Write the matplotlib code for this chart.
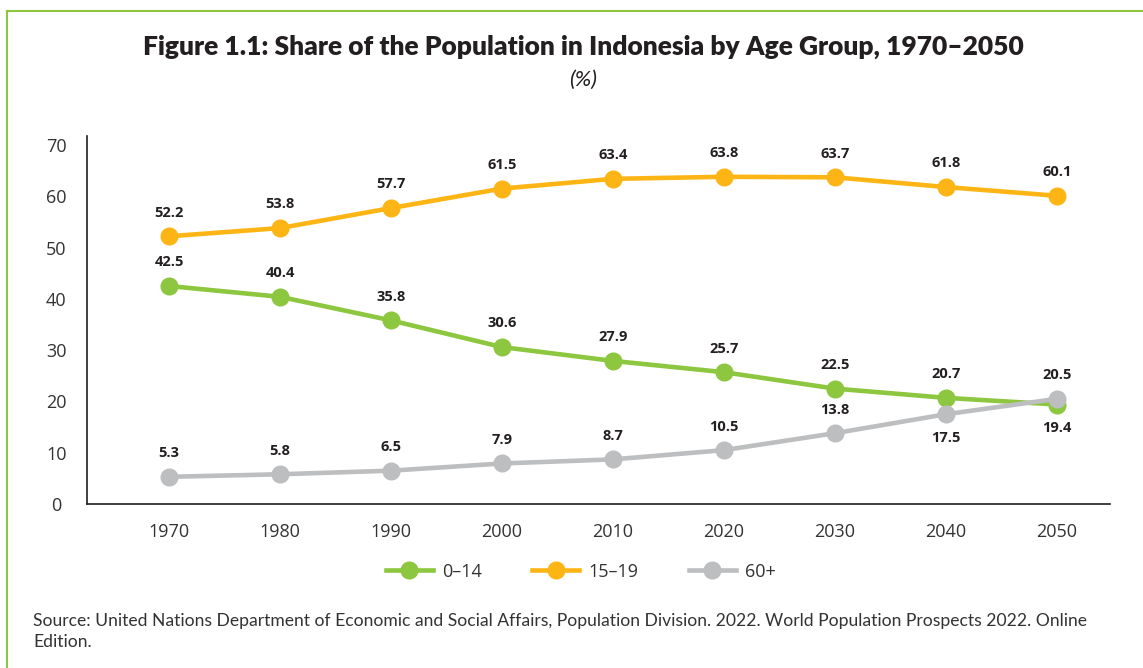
import matplotlib.pyplot as plt
from matplotlib.lines import Line2D

# share of population by age group, %
years = [1970, 1980, 1990, 2000, 2010, 2020, 2030, 2040, 2050]
age_0_14 = [42.5, 40.4, 35.8, 30.6, 27.9, 25.7, 22.5, 20.7, 19.4]
age_15_19 = [52.2, 53.8, 57.7, 61.5, 63.4, 63.8, 63.7, 61.8, 60.1]
age_60_plus = [5.3, 5.8, 6.5, 7.9, 8.7, 10.5, 13.8, 17.5, 20.5]
series_names = ["0\u201314", "15\u201319", "60+"]

green = "#8DC63F"
orange = "#FDB515"
grey = "#BCBEC0"
text_col = "#231F20"

plt.rcParams['font.family'] = ['Open Sans', 'DejaVu Sans']

fig = plt.figure(figsize=(11.43, 6.68), dpi=100)
ax = fig.add_axes([0.0761, 0.2455, 0.895, 0.5505])

series = [(age_0_14, green), (age_15_19, orange), (age_60_plus, grey)]
for vals, col in series:
    ax.plot(years, vals, color=col, lw=3.3, marker='o', ms=12,
            solid_capstyle='round', clip_on=False)

# value labels; a few sit below the point to avoid overlaps
below = {(2, 2040), (0, 2050)}
for i, (vals, col) in enumerate(series):
    for x, v in zip(years, vals):
        dy = -17 if (i, x) in below else 17
        ax.annotate(f"{v:.1f}", (x, v), xytext=(0, dy), textcoords='offset points',
                    ha='center', va='center', fontsize=10.5, fontweight='bold',
                    color=text_col)

ax.set_xlim(1962.6, 2054.8)
ax.set_ylim(0, 71.7)
ax.set_xticks(years)
ax.set_yticks(range(0, 71, 10))
ax.tick_params(length=0, labelsize=13, colors='#333333')
ax.tick_params(axis='y', pad=22)
for lab in ax.get_yticklabels():
    lab.set_horizontalalignment('center')
ax.tick_params(axis='x', pad=14)
for s in ['top', 'right']:
    ax.spines[s].set_visible(False)
for s in ['left', 'bottom']:
    ax.spines[s].set_color('#231F20')
    ax.spines[s].set_linewidth(1.2)

handles = [Line2D([], [], color=c, lw=3.3, marker='o', ms=12) for _, c in series]
fig.legend(handles, series_names, loc='center', bbox_to_anchor=(0.508, 0.144),
           ncol=3, frameon=False, fontsize=13, handlelength=2.6,
           columnspacing=2.8, handletextpad=0.5, labelcolor='#333333')

fig.text(0.51, 0.930, "Figure 1.1: Share of the Population in Indonesia by Age Group, 1970\u20132050",
         ha='center', va='center', fontsize=19, fontweight='heavy', color=text_col,
         family=['Lato', 'DejaVu Sans'])
fig.text(0.51, 0.880, "(%)", ha='center', va='center', fontsize=16, style='italic',
         color=text_col, family=['Lato', 'DejaVu Sans'])

fig.text(0.029, 0.055, "Source: United Nations Department of Economic and Social Affairs, Population Division. "
         "2022. World Population Prospects 2022. Online\nEdition.",
         ha='left', va='center', fontsize=12.6, color='#333333', linespacing=1.35,
         family=['Lato', 'DejaVu Sans'])

# green frame on top and left
fig.add_artist(Line2D([0.0061, 1.0], [0.9835, 0.9835], color=green, lw=1.5,
                      transform=fig.transFigure))
fig.add_artist(Line2D([0.0061, 0.0061], [0.0, 0.9835], color=green, lw=1.5,
                      transform=fig.transFigure))

fig.savefig("out.png", dpi=100)
